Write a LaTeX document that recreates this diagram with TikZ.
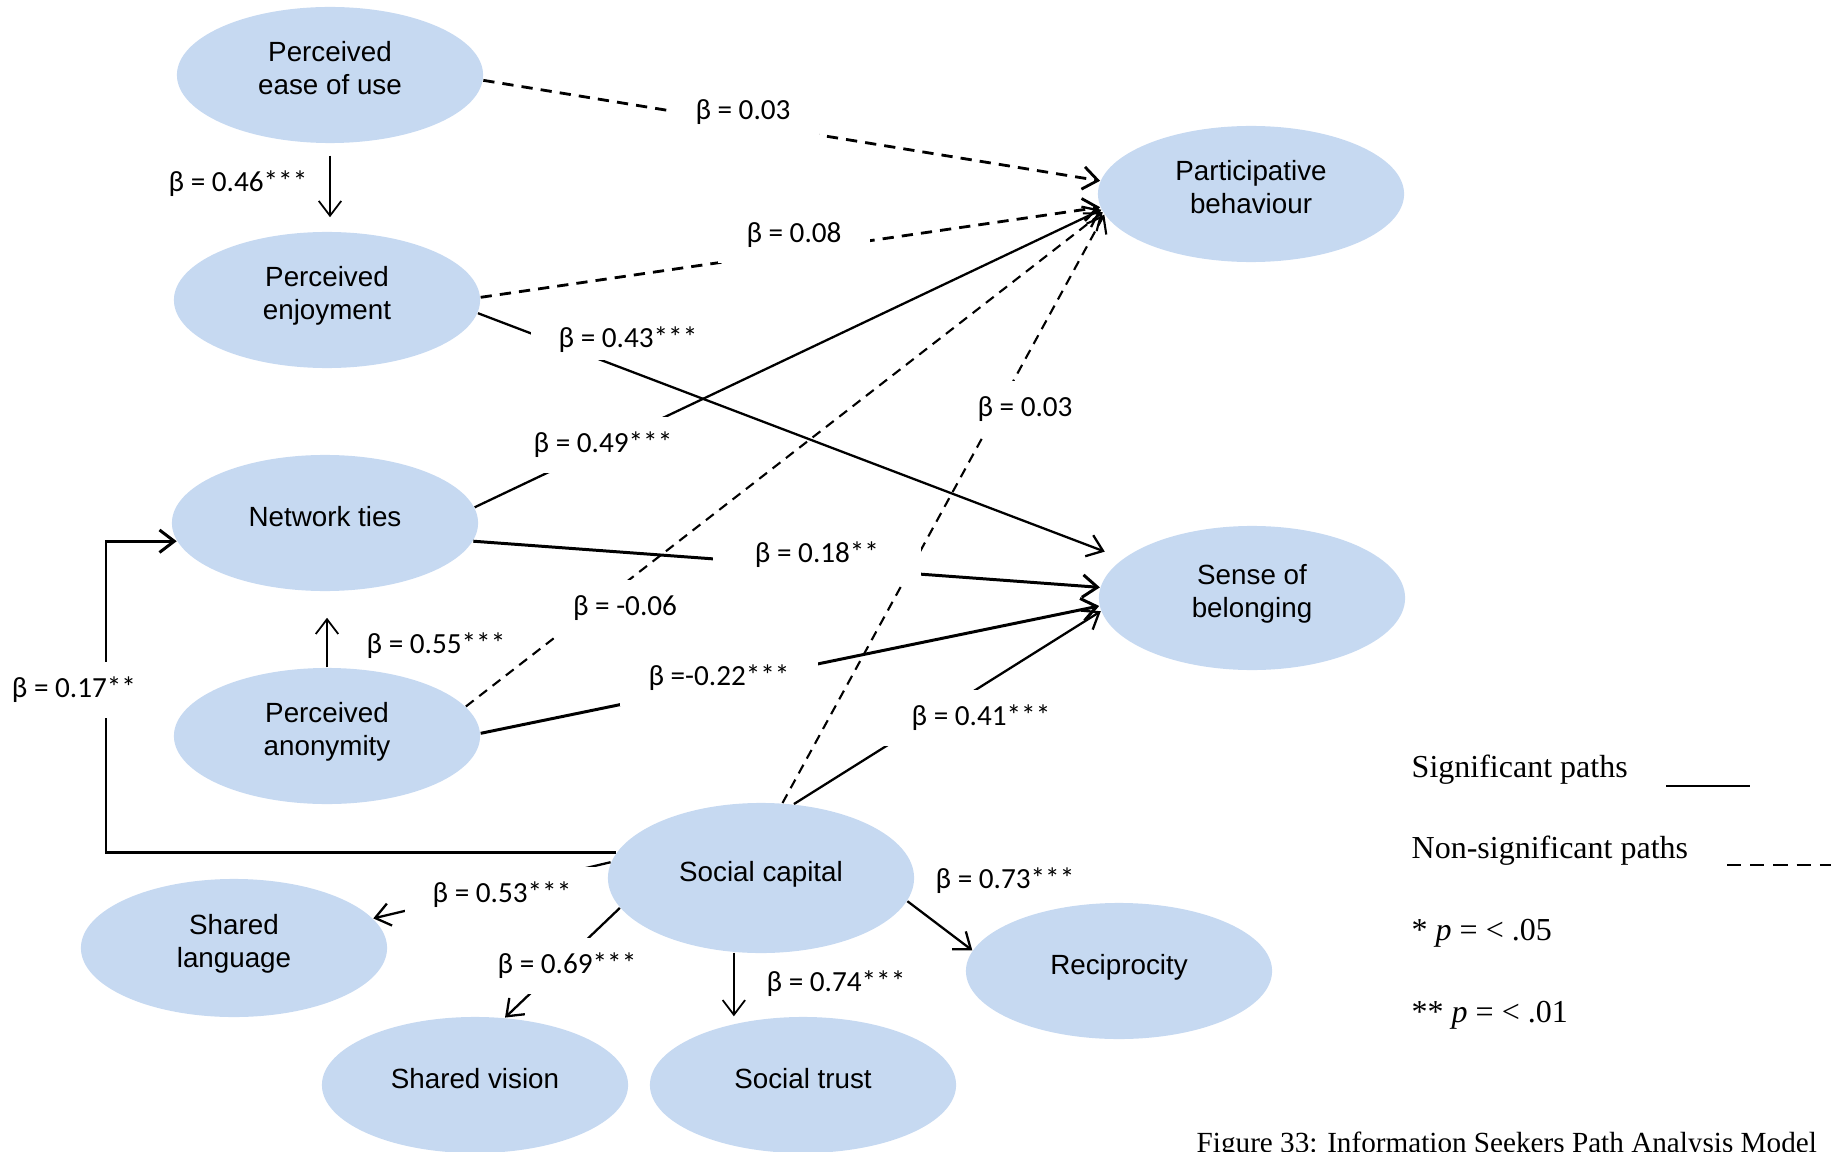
\documentclass[tikz,border=0pt]{standalone}
\usepackage{fontspec}
\setmainfont{Liberation Sans}
\newfontfamily\coeffont{Carlito}
\newfontfamily\legendfont{Liberation Serif}
\usetikzlibrary{arrows.meta,shapes.geometric}
\definecolor{bubble}{HTML}{C6D9F1}
\begin{document}
\begin{tikzpicture}[x=0.01cm,y=-0.01cm,
  >={Straight Barb[length=4.2pt,width=6.4pt]},
  construct/.style={ellipse, fill=bubble, minimum width=3.06cm, minimum height=1.36cm,
    inner sep=0pt, align=center, text depth=4pt, font=\fontsize{7.9}{9.3}\selectfont},
  sigline/.style={line width=0.65pt, ->},
  sigbold/.style={line width=0.85pt, ->},
  sigthin/.style={line width=0.5pt, ->},
  nsline/.style={line width=0.6pt, dash pattern=on 2.8pt off 2pt, ->},
  nsbold/.style={line width=0.8pt, dash pattern=on 3.2pt off 2.3pt, ->},
  coef/.style={fill=white, inner xsep=8pt, inner ysep=4.3pt,
    font=\coeffont\fontsize{8.3}{10}\selectfont},
  coefplain/.style={inner sep=1pt, font=\coeffont\fontsize{8.3}{10}\selectfont},
  legend/.style={anchor=base west, inner sep=0pt,
    font=\legendfont\fontsize{9.1}{11}\selectfont},
]
\useasboundingbox (0,0) rectangle (1831,1152);

% constructs
\node[construct] (PEOU) at (330,75) {Perceived\\ease of use};
\node[construct] (PE) at (327,300) {Perceived\\enjoyment};
\node[construct] (NT) at (325,523) {Network ties};
\node[construct] (PA) at (327,736) {Perceived\\anonymity};
\node[construct] (PB) at (1251,194) {Participative\\behaviour};
\node[construct, minimum height=1.44cm] (SOB) at (1252,598) {Sense of\\belonging};
\node[construct, minimum height=1.5cm] (SC) at (761,878) {Social capital};
\node[construct, minimum height=1.38cm] (SL) at (234,948) {Shared\\language};
\node[construct] (SV) at (475,1085) {Shared vision};
\node[construct] (ST) at (803,1085) {Social trust};
\node[construct] (Rec) at (1119,971) {Reciprocity};

% paths
\draw[nsbold] (PEOU.358) -- (PB.175);
\draw[sigthin, shorten <=3.4pt, shorten >=4pt] (PEOU.south) -- (PEOU.south |- PE.north);
\draw[nsbold] (PE.1) -- (PB.185);
\draw[sigline, shorten >=5.5pt] (PE.355) -- (SOB.163);
\draw[sigline] (NT.6) -- (PB.186);
\draw[sigbold] (NT.353) -- (SOB.176);
\draw[sigthin, shorten >=7.4pt] (PA.north) -- (PA.north |- NT.south);
\draw[nsline] (PA.12) -- (PB.187);
\draw[sigbold] (PA.1) -- (SOB.183);
\draw[nsline] (SC.74) -- (PB.188);
\draw[sigline] (SC.66) -- (SOB.185);
\coordinate (bend) at (106,541);
\draw[sigbold] (SC.170) -- (SC.170 -| bend) |- (NT.187);
\draw[sigline] (SC.174) -- (SL.12);
\draw[sigline] (SC.192) -- (SV.66);
\draw[sigthin] (SC.250) -- (SC.250 |- ST.north);
\draw[sigline] (SC.351) -- (Rec.172);

% path coefficients
\node[coefplain] (l046) at (238,184) {β = 0.46***};
\node[coef] (l003a) at (743,112) {β = 0.03};
\node[coef] (l008) at (794,235) {β = 0.08};
\node[coef, inner ysep=2pt] (l043) at (628,340) {β = 0.43***};
\node[coef] (l049) at (603,445) {β = 0.49***};
\node[coef, inner xsep=12pt] (l018) at (817,555) {β = 0.18**};
\node[coef] (l006) at (625,608) {β = -0.06};
\node[coefplain] (l055) at (436,646) {β = 0.55***};
\node[coef] (l022) at (719,678) {β =-0.22***};
\node[coef] (l003b) at (1025,409) {β = 0.03};
\node[coef] (l041) at (981,718) {β = 0.41***};
\node[coef] (l017) at (74,690) {β = 0.17**};
\node[coef] (l053) at (502,895) {β = 0.53***};
\node[coef] (l069) at (567,966) {β = 0.69***};
\node[coefplain] (l074) at (836,984) {β = 0.74***};
\node[coefplain] (l073) at (1005,881) {β = 0.73***};

% legend
\node[legend] (sigtxt) at (1411,777) {Significant paths};
\node[legend] (nstxt) at (1411,858) {Non-significant paths};
\node[legend] (p05) at (1411,940) {* \textit{p} = < .05};
\node[legend] (p01) at (1411,1022) {** \textit{p} = < .01};
\coordinate (sigA) at (1666,786);
\coordinate (sigB) at (1750,786);
\draw[line width=0.8pt] (sigA) -- (sigB);
\coordinate (nsA) at (1727,865);
\coordinate (nsB) at (1831,865);
\draw[line width=0.8pt, dash pattern=on 4pt off 2.6pt] (nsA) -- (nsB);

% caption
\node[legend, font=\legendfont\fontsize{8.3}{10}\selectfont] (caption) at (1196,1152)
  {Figure 33: Information Seekers Path Analysis Model};
\end{tikzpicture}
\end{document}
